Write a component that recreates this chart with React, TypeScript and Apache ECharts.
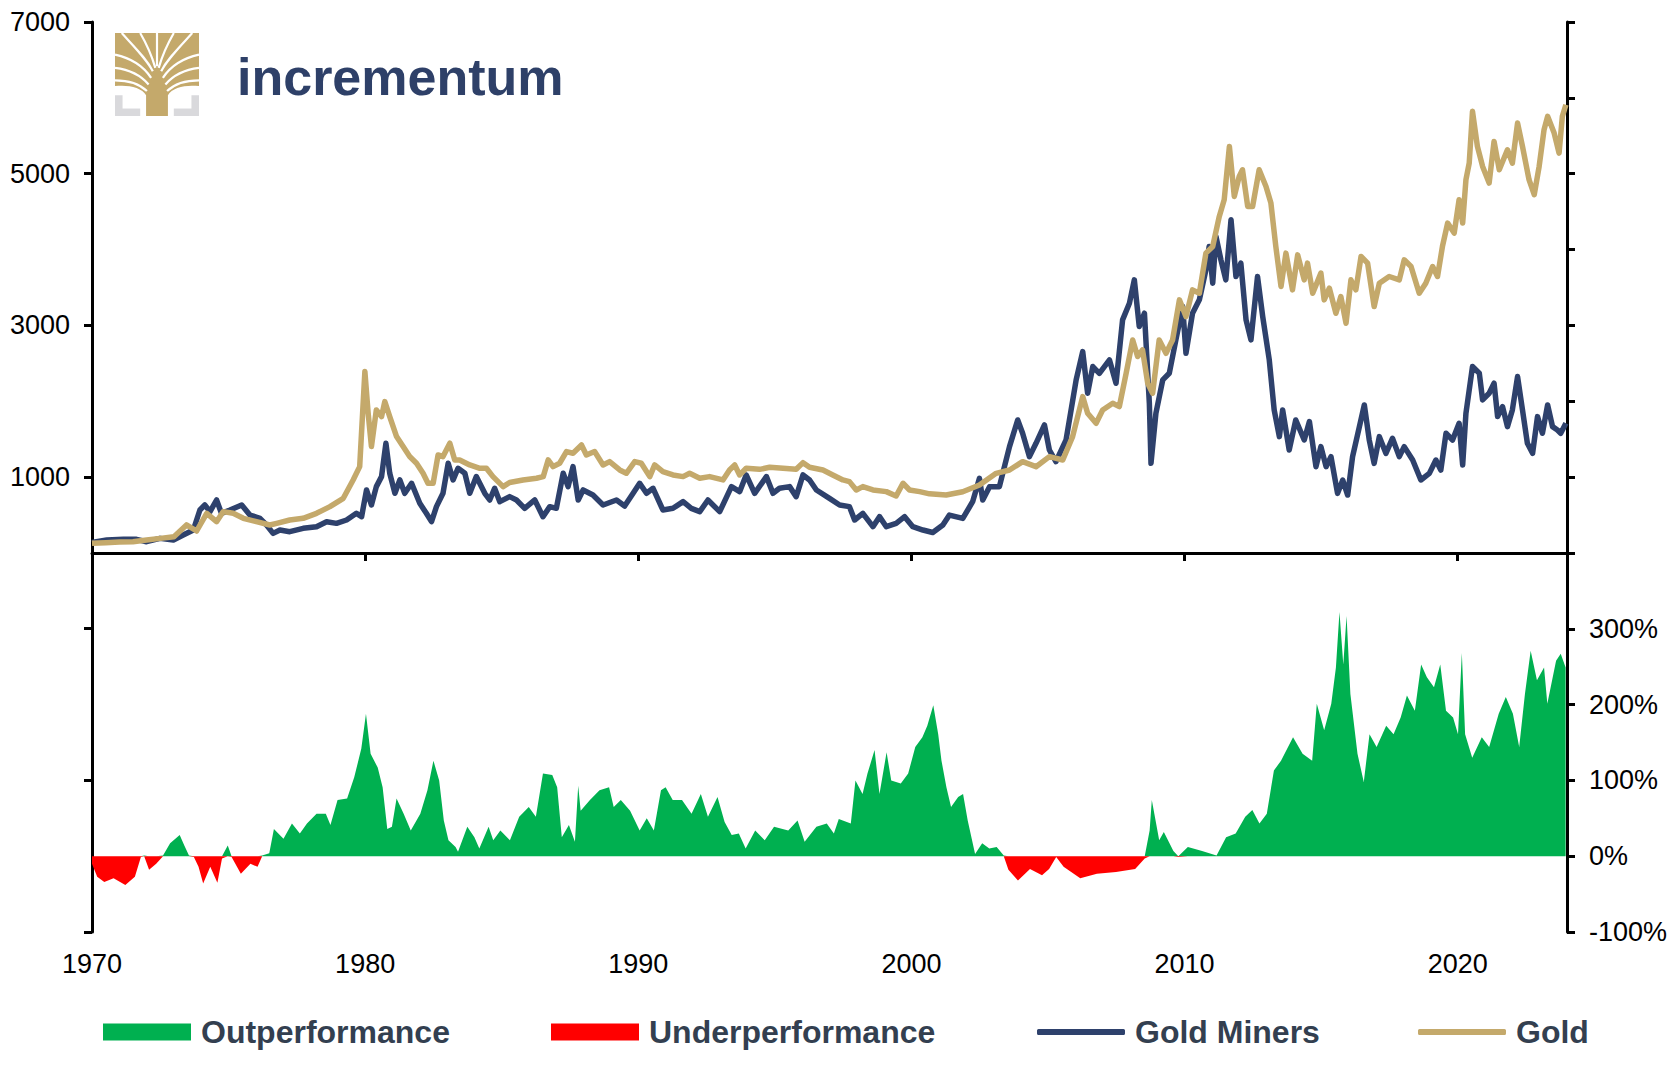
import React, { useEffect, useRef } from 'react';
import * as echarts from 'echarts';

const FONT = '"Liberation Sans", Arial, Helvetica, sans-serif';

// Gold Miners index (decimal year, index value)
const goldMiners: [number, number][] = [
  [1970.00,140],[1970.54,171],[1971.15,180],[1971.63,180],[1972.00,149],[1972.49,193],[1972.98,171],[1973.34,237],
  [1973.71,303],[1973.95,567],[1974.13,633],[1974.32,545],[1974.56,699],[1974.74,523],[1975.05,567],[1975.48,633],
  [1975.78,501],[1976.15,457],[1976.39,369],[1976.63,259],[1976.88,303],[1977.24,281],[1977.73,325],[1978.22,347],
  [1978.59,413],[1978.95,391],[1979.32,435],[1979.68,523],[1979.87,479],[1980.05,831],[1980.23,633],[1980.41,875],
  [1980.60,1007],[1980.76,1447],[1980.90,1051],[1981.09,787],[1981.27,963],[1981.45,787],[1981.70,919],[1982.00,655],
  [1982.24,523],[1982.43,413],[1982.61,611],[1982.85,787],[1983.04,1183],[1983.22,963],[1983.40,1117],[1983.65,1051],
  [1983.83,787],[1984.07,1007],[1984.38,787],[1984.56,699],[1984.74,853],[1984.93,677],[1985.29,743],[1985.54,699],
  [1985.84,589],[1986.21,699],[1986.51,479],[1986.76,611],[1987.00,589],[1987.25,1051],[1987.43,875],[1987.61,1139],
  [1987.80,699],[1987.98,831],[1988.34,765],[1988.71,633],[1989.20,699],[1989.50,619],[1989.81,787],[1990.05,919],
  [1990.30,787],[1990.54,853],[1990.90,567],[1991.27,589],[1991.64,677],[1991.94,589],[1992.25,545],[1992.55,699],
  [1992.98,545],[1993.41,875],[1993.71,809],[1993.95,1029],[1994.26,787],[1994.69,1007],[1994.93,787],[1995.17,853],
  [1995.54,875],[1995.78,743],[1996.03,1029],[1996.27,963],[1996.52,831],[1997.00,721],[1997.37,633],[1997.73,611],
  [1997.92,435],[1998.22,523],[1998.59,347],[1998.83,479],[1999.08,347],[1999.44,391],[1999.75,479],[2000.05,347],
  [2000.42,303],[2000.78,270],[2001.15,368],[2001.39,500],[2001.88,456],[2002.24,676],[2002.49,984],[2002.61,698],
  [2002.86,874],[2003.22,874],[2003.59,1402],[2003.89,1754],[2004.07,1578],[2004.32,1270],[2004.56,1446],[2004.87,1688],
  [2005.05,1358],[2005.29,1204],[2005.66,1490],[2006.03,2282],[2006.27,2655],[2006.45,2106],[2006.64,2458],[2006.88,2369],
  [2007.25,2545],[2007.49,2238],[2007.73,3073],[2007.98,3293],[2008.16,3601],[2008.34,2985],[2008.53,3161],[2008.71,1974],
  [2008.77,1182],[2008.95,1842],[2009.20,2282],[2009.44,2369],[2009.68,2809],[2009.93,3249],[2010.05,2633],[2010.29,3161],
  [2010.54,3337],[2010.78,3733],[2010.90,4041],[2011.03,3557],[2011.15,4173],[2011.33,3865],[2011.51,3601],[2011.70,4393],
  [2011.88,3645],[2012.06,3821],[2012.25,3073],[2012.43,2809],[2012.67,3645],[2012.86,3117],[2013.10,2545],[2013.28,1886],
  [2013.47,1534],[2013.59,1886],[2013.83,1358],[2014.07,1754],[2014.38,1490],[2014.57,1732],[2014.81,1138],[2014.99,1402],
  [2015.18,1138],[2015.36,1270],[2015.60,786],[2015.79,962],[2015.97,764],[2016.15,1270],[2016.40,1666],[2016.58,1952],
  [2016.76,1490],[2016.94,1182],[2017.13,1534],[2017.37,1314],[2017.61,1512],[2017.86,1270],[2018.04,1402],[2018.35,1226],
  [2018.65,962],[2018.96,1050],[2019.20,1226],[2019.38,1094],[2019.57,1578],[2019.81,1490],[2020.05,1710],[2020.18,1160],
  [2020.30,1842],[2020.54,2458],[2020.79,2370],[2020.91,2018],[2021.15,2106],[2021.33,2238],[2021.46,1798],[2021.64,1930],
  [2021.82,1666],[2022.00,1886],[2022.19,2326],[2022.37,1886],[2022.55,1446],[2022.74,1314],[2022.92,1798],[2023.10,1578],
  [2023.29,1952],[2023.47,1666],[2023.65,1622],[2023.77,1578],[2023.96,1710]
];

// Gold index (decimal year, index value)
const gold: [number, number][] = [
  [1970.00,127],[1970.50,136],[1971.00,145],[1971.50,149],[1972.00,171],[1972.50,193],[1973.00,215],[1973.46,370],
  [1973.83,290],[1974.20,523],[1974.56,413],[1974.80,545],[1975.17,523],[1975.54,457],[1976.02,413],[1976.51,369],
  [1976.76,391],[1977.24,435],[1977.73,457],[1978.22,523],[1978.71,611],[1979.20,721],[1979.56,963],[1979.80,1139],
  [1979.99,2392],[1980.11,1842],[1980.23,1403],[1980.41,1886],[1980.60,1798],[1980.72,1996],[1980.90,1798],[1981.15,1535],
  [1981.39,1403],[1981.63,1271],[1981.88,1183],[1982.12,1051],[1982.30,919],[1982.49,919],[1982.67,1293],[1982.85,1271],
  [1983.10,1447],[1983.28,1227],[1983.46,1227],[1983.83,1161],[1984.20,1117],[1984.44,1117],[1984.68,1007],[1985.05,875],
  [1985.29,930],[1985.78,963],[1986.27,985],[1986.52,1007],[1986.70,1227],[1986.88,1139],[1987.12,1183],[1987.37,1337],
  [1987.61,1315],[1987.92,1424],[1988.10,1292],[1988.40,1337],[1988.71,1161],[1988.95,1205],[1989.32,1095],[1989.56,1051],
  [1989.87,1205],[1990.11,1183],[1990.42,1007],[1990.60,1161],[1990.90,1073],[1991.27,1029],[1991.64,1007],[1991.88,1051],
  [1992.25,985],[1992.61,1007],[1993.10,963],[1993.34,1095],[1993.53,1161],[1993.71,1029],[1993.95,1117],[1994.44,1103],
  [1994.81,1130],[1995.30,1117],[1995.78,1103],[1996.03,1191],[1996.27,1130],[1996.76,1095],[1997.12,1029],[1997.49,963],
  [1997.73,941],[1997.98,831],[1998.22,875],[1998.59,831],[1999.08,809],[1999.44,751],[1999.69,919],[1999.93,831],
  [2000.30,809],[2000.66,780],[2001.27,764],[2001.88,808],[2002.49,896],[2003.10,1050],[2003.59,1094],[2004.07,1204],
  [2004.56,1138],[2005.05,1270],[2005.54,1226],[2005.90,1534],[2006.27,2062],[2006.45,1842],[2006.76,1710],[2007.00,1886],
  [2007.37,1974],[2007.61,1930],[2007.86,2369],[2008.10,2809],[2008.28,2590],[2008.46,2677],[2008.65,2238],[2008.83,2106],
  [2009.07,2809],[2009.32,2633],[2009.56,2809],[2009.81,3337],[2010.05,3117],[2010.29,3469],[2010.54,3425],[2010.78,3953],
  [2011.03,4041],[2011.27,4437],[2011.45,4657],[2011.64,5360],[2011.82,4701],[2012.00,4964],[2012.12,5052],[2012.31,4569],
  [2012.49,4569],[2012.73,5052],[2012.98,4832],[2013.16,4613],[2013.34,4041],[2013.53,3513],[2013.71,3953],[2013.95,3469],
  [2014.14,3930],[2014.38,3601],[2014.50,3821],[2014.69,3425],[2014.99,3689],[2015.11,3337],[2015.30,3491],[2015.54,3161],
  [2015.72,3381],[2015.91,3029],[2016.09,3601],[2016.27,3469],[2016.46,3909],[2016.70,3821],[2016.94,3249],[2017.13,3557],
  [2017.49,3645],[2017.86,3601],[2018.04,3865],[2018.29,3777],[2018.59,3425],[2018.83,3557],[2019.08,3777],[2019.26,3645],
  [2019.44,4041],[2019.63,4349],[2019.87,4217],[2020.05,4657],[2020.18,4349],[2020.30,4921],[2020.42,5140],[2020.54,5822],
  [2020.72,5360],[2020.91,5096],[2021.15,4877],[2021.33,5426],[2021.52,5052],[2021.82,5316],[2022.00,5140],[2022.19,5668],
  [2022.37,5360],[2022.61,4921],[2022.80,4723],[2022.98,5096],[2023.16,5580],[2023.29,5756],[2023.53,5536],[2023.71,5272],
  [2023.83,5756],[2023.96,5910]
];

// Relative performance of gold vs. gold miners, in % (decimal year, %)
const relPerf: [number, number][] = [
  [1970.00,-10],[1970.19,-27],[1970.45,-34],[1970.79,-29],[1971.22,-38],[1971.57,-27],[1971.79,-1],[1971.91,1],
  [1972.09,-18],[1972.35,-10],[1972.60,1],[1972.86,17],[1973.21,28],[1973.38,14],[1973.55,1],[1973.73,-1],
  [1973.90,-14],[1974.07,-36],[1974.33,-14],[1974.59,-35],[1974.76,-3],[1974.97,14],[1975.11,-1],[1975.45,-23],
  [1975.80,-10],[1976.06,-14],[1976.23,1],[1976.49,4],[1976.66,36],[1977.01,23],[1977.32,43],[1977.61,30],
  [1977.87,43],[1978.22,56],[1978.56,56],[1978.73,41],[1978.99,74],[1979.34,76],[1979.60,104],[1979.86,142],
  [1980.03,188],[1980.20,135],[1980.46,117],[1980.64,91],[1980.81,36],[1980.98,39],[1981.15,76],[1981.41,56],
  [1981.67,34],[1982.02,56],[1982.28,87],[1982.50,126],[1982.71,100],[1982.88,47],[1983.05,21],[1983.31,12],
  [1983.40,6],[1983.74,39],[1984.00,25],[1984.18,10],[1984.52,39],[1984.69,21],[1984.95,34],[1985.30,21],
  [1985.64,52],[1985.99,65],[1986.25,52],[1986.51,109],[1986.85,107],[1987.03,91],[1987.20,25],[1987.46,41],
  [1987.68,19],[1987.80,93],[1987.89,60],[1988.23,74],[1988.58,87],[1988.93,91],[1989.10,65],[1989.36,74],
  [1989.70,60],[1990.05,34],[1990.31,50],[1990.57,34],[1990.83,87],[1991.00,91],[1991.26,74],[1991.60,74],
  [1991.95,56],[1992.29,82],[1992.55,52],[1992.90,78],[1993.16,45],[1993.42,28],[1993.68,30],[1993.93,10],
  [1994.28,34],[1994.63,21],[1994.97,39],[1995.49,34],[1995.83,47],[1996.09,19],[1996.52,39],[1996.90,43],
  [1997.16,30],[1997.34,49],[1997.78,43],[1997.95,100],[1998.21,82],[1998.39,109],[1998.65,140],[1998.83,82],
  [1999.09,137],[1999.26,100],[1999.61,96],[1999.88,109],[2000.14,144],[2000.40,157],[2000.58,172],[2000.80,199],
  [2000.98,161],[2001.10,126],[2001.28,91],[2001.45,65],[2001.71,78],[2001.89,82],[2002.06,47],[2002.33,3],
  [2002.59,17],[2002.85,10],[2003.12,12],[2003.38,1],[2003.55,-18],[2003.90,-32],[2004.34,-17],[2004.78,-25],
  [2005.04,-17],[2005.30,-1],[2005.57,-14],[2006.18,-29],[2006.79,-23],[2007.49,-21],[2008.19,-17],[2008.54,-3],
  [2008.72,34],[2008.80,74],[2009.07,21],[2009.24,32],[2009.59,7],[2009.77,-1],[2010.12,12],[2010.64,7],
  [2011.17,1],[2011.52,25],[2011.87,30],[2012.22,52],[2012.48,61],[2012.74,43],[2013.01,56],[2013.27,113],
  [2013.53,126],[2013.97,157],[2014.32,135],[2014.67,126],[2014.84,201],[2015.11,166],[2015.37,201],[2015.54,249],
  [2015.67,322],[2015.81,253],[2015.93,317],[2016.07,214],[2016.33,135],[2016.56,98],[2016.77,161],[2017.03,144],
  [2017.38,172],[2017.65,161],[2017.91,183],[2018.14,212],[2018.43,192],[2018.66,253],[2018.87,236],[2019.13,223],
  [2019.36,253],[2019.57,192],[2019.83,183],[2020.01,161],[2020.15,268],[2020.27,161],[2020.53,130],[2020.88,157],
  [2021.15,144],[2021.50,188],[2021.76,210],[2022.02,188],[2022.25,144],[2022.46,214],[2022.67,271],[2022.90,232],
  [2023.16,249],[2023.28,201],[2023.60,258],[2023.77,267],[2023.95,249]
];

const COLORS = {
  miners: '#2e416c',
  gold: '#c4a96b',
  out: '#00b050',
  under: '#ff0000',
  text: '#333f50',
  logoText: '#2e4068',
  logoGrey: '#d9d9dc'
};

const TREE_D =
  'M 0 0 L 100 0 L 100 64 C 86 62 68 65 63 75 L 63 100 L 37 100 L 37 75 C 32 65 14 62 0 64 Z';
const GAPS_D =
  'M 38 70 C 28 60 14 57 0 57 ' +
  'M 40 62 C 30 50 16 44 0 42 ' +
  'M 43 54 C 34 40 18 30 0 26 ' +
  'M 45 46 C 38 32 26 20 8 0 ' +
  'M 48 42 C 44 28 38 14 30 0 ' +
  'M 50 40 C 50 26 50 12 50 0 ' +
  'M 52 42 C 56 28 62 14 70 0 ' +
  'M 55 46 C 62 32 74 20 92 0 ' +
  'M 57 54 C 66 40 82 30 100 26 ' +
  'M 60 62 C 70 50 84 44 100 42 ' +
  'M 62 70 C 72 60 86 57 100 57';

let registered = false;
function registerShapes() {
  if (registered) return;
  registered = true;
  echarts.graphic.registerShape('incTree', echarts.graphic.extendPath(TREE_D, {}));
  echarts.graphic.registerShape('incGaps', echarts.graphic.extendPath(GAPS_D, {}));
}

export default function App() {
  const ref = useRef<HTMLDivElement>(null);

  useEffect(() => {
    document.body.style.margin = '0';
    registerShapes();
    const chart = echarts.init(ref.current as HTMLDivElement, null, { renderer: 'svg' });

    const axisLine = { show: true, lineStyle: { color: '#000', width: 3 } };
    const tickStyle = { color: '#000', width: 3 };
    const labelStyle = { color: '#000', fontSize: 27, fontFamily: FONT };

    const legendText = {
      fontSize: 32,
      fontWeight: 'bold',
      color: COLORS.text,
      fontFamily: FONT,
      padding: [0, 0, 0, 5]
    };

    const makeLegend = (name: string, left: number, color: string, rect: boolean) => ({
      show: true,
      left,
      top: 1011,
      orient: 'horizontal',
      itemWidth: 88,
      itemHeight: rect ? 17 : 6,
      selectedMode: false,
      textStyle: legendText,
      data: [{ name, icon: rect ? 'rect' : 'roundRect', itemStyle: { color, borderWidth: 0 } }]
    });

    // positive / negative parts of the relative-performance area
    const outPart = relPerf.map(([x, v]) => [x, v > 0 ? v : 0]);
    const underPart = relPerf.map(([x, v]) => [x, v < 0 ? v : 0]);

    const hiddenX = {
      type: 'value', min: 1970, max: 2024, show: false,
      axisLine: { show: false }, axisTick: { show: false }, axisLabel: { show: false }, splitLine: { show: false }
    };

    const option: any = {
      animation: false,
      backgroundColor: '#ffffff',
      grid: [
        { left: 92, right: 110, top: 22, height: 531 },
        { left: 92, right: 110, top: 553, height: 379 },
        { left: 92, right: 110, top: 22, height: 910 }
      ],
      xAxis: [
        {
          type: 'value', gridIndex: 0, min: 1970, max: 2024, interval: 10,
          axisLine,
          axisTick: { show: true, length: 8, lineStyle: tickStyle },
          axisLabel: { show: false },
          splitLine: { show: false }
        },
        {
          type: 'value', gridIndex: 1, min: 1970, max: 2024, interval: 10,
          axisLine: { show: false },
          axisTick: { show: false },
          axisLabel: { ...labelStyle, margin: 18, showMaxLabel: false, formatter: (v: number) => String(v) },
          splitLine: { show: false }
        },
        { ...hiddenX, gridIndex: 2 }
      ],
      yAxis: [
        {
          type: 'value', gridIndex: 0, position: 'left', min: 0, max: 7000, interval: 1000,
          axisLine: { show: false }, axisTick: { show: false }, axisLabel: { show: false },
          splitLine: { show: false }
        },
        {
          type: 'value', gridIndex: 0, position: 'right', min: 0, max: 7000, interval: 1000,
          axisLine,
          axisTick: { show: true, length: 8, lineStyle: tickStyle },
          axisLabel: { show: false },
          splitLine: { show: false }
        },
        {
          type: 'value', gridIndex: 1, position: 'left', min: -100, max: 400, interval: 100,
          axisLine: { show: false }, axisTick: { show: false }, axisLabel: { show: false },
          splitLine: { show: false }
        },
        {
          type: 'value', gridIndex: 1, position: 'right', min: -100, max: 400, interval: 100,
          axisLine,
          axisTick: { show: true, length: 8, lineStyle: tickStyle },
          axisLabel: { ...labelStyle, margin: 22, showMaxLabel: false, formatter: (v: number) => v + '%' },
          splitLine: { show: false }
        },
        {
          // full-height left axis: ticks every 2000 index points (same spacing as 200 %)
          type: 'value', gridIndex: 2, position: 'left', min: -5000, max: 7000, interval: 2000,
          axisLine,
          axisTick: { show: true, length: 8, lineStyle: tickStyle },
          axisLabel: { ...labelStyle, margin: 22, formatter: (v: number) => (v > 0 ? String(v) : '') },
          splitLine: { show: false }
        }
      ],
      legend: [
        makeLegend('Outperformance', 98, COLORS.out, true),
        makeLegend('Underperformance', 546, COLORS.under, true),
        makeLegend('Gold Miners', 1032, COLORS.miners, false),
        makeLegend('Gold', 1413, COLORS.gold, false)
      ],
      series: [
        {
          name: 'Outperformance', type: 'line', xAxisIndex: 1, yAxisIndex: 3,
          data: outPart, symbol: 'none', showSymbol: false, color: COLORS.out,
          lineStyle: { width: 0, color: COLORS.out }, areaStyle: { color: COLORS.out, opacity: 1 }, z: 2
        },
        {
          name: 'Underperformance', type: 'line', xAxisIndex: 1, yAxisIndex: 3,
          data: underPart, symbol: 'none', showSymbol: false, color: COLORS.under,
          lineStyle: { width: 0, color: COLORS.under }, areaStyle: { color: COLORS.under, opacity: 1 }, z: 2
        },
        {
          name: 'Gold Miners', type: 'line', xAxisIndex: 0, yAxisIndex: 0,
          data: goldMiners, symbol: 'none', showSymbol: false, color: COLORS.miners,
          lineStyle: { color: COLORS.miners, width: 5.5, join: 'round' }, z: 3
        },
        {
          name: 'Gold', type: 'line', xAxisIndex: 0, yAxisIndex: 0,
          data: gold, symbol: 'none', showSymbol: false, color: COLORS.gold,
          lineStyle: { color: COLORS.gold, width: 5.5, join: 'round' }, z: 4
        }
      ],
      graphic: [
        {
          type: 'group', x: 115, y: 33, scaleX: 0.84, scaleY: 0.83,
          children: [
            { type: 'incTree', style: { fill: COLORS.gold } },
            { type: 'incGaps', style: { fill: 'none', stroke: '#ffffff', lineWidth: 2.6 } },
            { type: 'rect', shape: { x: 0, y: 75, width: 9, height: 25 }, style: { fill: COLORS.logoGrey } },
            { type: 'rect', shape: { x: 0, y: 91, width: 30, height: 9 }, style: { fill: COLORS.logoGrey } },
            { type: 'rect', shape: { x: 91, y: 75, width: 9, height: 25 }, style: { fill: COLORS.logoGrey } },
            { type: 'rect', shape: { x: 70, y: 91, width: 30, height: 9 }, style: { fill: COLORS.logoGrey } }
          ]
        },
        {
          type: 'text', x: 237, y: 77,
          style: {
            text: 'incrementum', fill: COLORS.logoText, fontSize: 52, fontWeight: 'bold',
            fontFamily: FONT, verticalAlign: 'middle'
          }
        }
      ]
    };

    chart.setOption(option);
    return () => chart.dispose();
  }, []);

  return (
    <div
      ref={ref}
      style={{ position: 'fixed', left: 0, top: 0, width: 1677, height: 1066, background: '#fff' }}
    />
  );
}
